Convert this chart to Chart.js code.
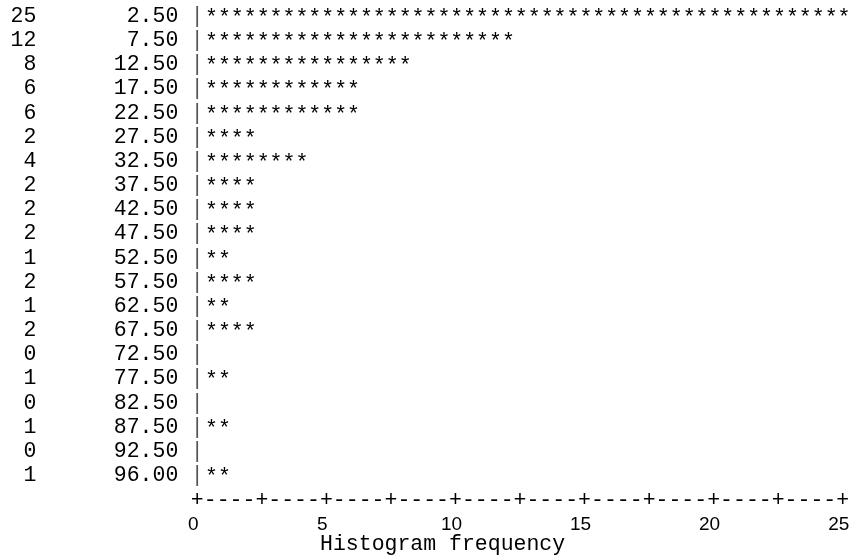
<!DOCTYPE html>
<html lang="en">
<head>
  <meta charset="UTF-8">
  <title>Histogram frequency</title>
  <style>
    html, body {
      margin: 0;
      padding: 0;
      background: #ffffff;
    }
    #histChart {
      display: block;
    }
  </style>
</head>
<body>
  <canvas id="histChart" width="852" height="559"></canvas>

  <script src="https://cdn.jsdelivr.net/npm/chart.js"></script>
  <script>
    // bin midpoints and their counts
    const midpoints = ['2.50', '7.50', '12.50', '17.50', '22.50', '27.50', '32.50', '37.50', '42.50', '47.50',
                       '52.50', '57.50', '62.50', '67.50', '72.50', '77.50', '82.50', '87.50', '92.50', '96.00'];
    const counts = [25, 12, 8, 6, 6, 2, 4, 2, 2, 2, 1, 2, 1, 2, 0, 1, 0, 1, 0, 1];
    const xTickValues = [0, 5, 10, 15, 20, 25];
    const axisTitle = 'Histogram frequency';

    const monoFont = '"Liberation Mono", "Courier New", monospace';
    const charSize = 21.5;

    // each star is half a unit, the bar itself is drawn as a row of '*'
    const starPlugin = {
      id: 'starRows',
      afterDatasetsDraw(chart) {
        const ctx = chart.ctx;
        const xs = chart.scales.x;
        const meta = chart.getDatasetMeta(0);
        const x0 = xs.getPixelForValue(0);
        ctx.save();
        ctx.fillStyle = '#000';
        ctx.font = charSize + 'px ' + monoFont;
        ctx.textAlign = 'center';
        ctx.textBaseline = 'middle';
        meta.data.forEach((bar, i) => {
          ctx.fillStyle = '#555';
          ctx.fillText('|', x0, bar.y);
          ctx.fillStyle = '#000';
          const n = Math.round(counts[i] * 2);
          for (let k = 1; k <= n; k++) {
            ctx.fillText('*', xs.getPixelForValue(k * 0.5 + 0.05), bar.y + 2);
          }
        });
        // text axis line: +----+----+ ...
        const yAxis = chart.chartArea.bottom + 13.3;
        const max = xs.max;
        for (let k = 0; k <= max * 2; k++) {
          const ch = (k % 5 === 0) ? '+' : '-';
          ctx.fillText(ch, xs.getPixelForValue(k * 0.5), yAxis);
        }
        ctx.restore();
      }
    };

    const ctx = document.getElementById('histChart').getContext('2d');
    new Chart(ctx, {
      type: 'bar',
      data: {
        labels: midpoints,
        datasets: [{
          data: counts,
          backgroundColor: 'rgba(0,0,0,0)',
          borderWidth: 0,
          barPercentage: 0.8
        }]
      },
      options: {
        indexAxis: 'y',
        responsive: false,
        animation: false,
        layout: {
          padding: { top: 4.2, right: 9.3, bottom: 0, left: 0 }
        },
        plugins: {
          legend: { display: false },
          tooltip: { enabled: false }
        },
        scales: {
          x: {
            min: 0,
            max: 25,
            afterBuildTicks: (scale) => {
              scale.ticks = xTickValues.map(v => ({ value: v }));
            },
            afterFit: (scale) => {
              scale.height = 71.6;
              scale.paddingLeft = 0;
              scale.paddingRight = 0;
            },
            grid: { display: false, drawTicks: false },
            border: { display: false },
            ticks: {
              padding: 26,
              labelOffset: -4,
              color: '#000',
              maxRotation: 0,
              autoSkip: false,
              font: { family: '"Liberation Sans", Arial, sans-serif', size: 19 }
            },
            title: {
              display: true,
              text: axisTitle + ' '.repeat(12),
              color: '#000',
              padding: { top: 0, bottom: 2 },
              font: { family: monoFont, size: charSize }
            }
          },
          y: {
            afterFit: (scale) => {
              scale.width = 197.3;
              scale.paddingTop = 0;
              scale.paddingBottom = 0;
            },
            grid: { display: false, drawTicks: false },
            border: { display: false },
            ticks: {
              padding: 19,
              color: '#000',
              autoSkip: false,
              font: { family: monoFont, size: charSize },
              callback: (value, index) =>
                String(counts[index]).padStart(2) + ' '.repeat(6) + midpoints[index].padStart(5)
            }
          }
        }
      },
      plugins: [starPlugin]
    });
  </script>
</body>
</html>
